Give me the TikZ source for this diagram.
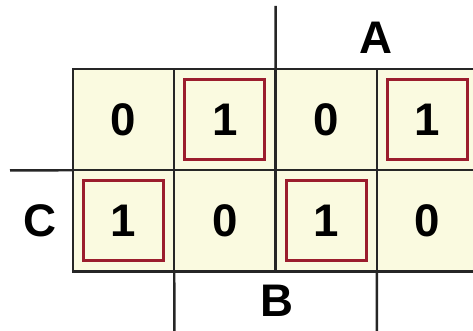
\documentclass[tikz,border=0pt]{standalone}
\usepackage{fontspec}
\setmainfont{Liberation Sans}
\definecolor{cellfill}{HTML}{FAFAE0}
\definecolor{grpred}{HTML}{9B1D2D}
\begin{document}
\begin{tikzpicture}[x=0.02cm, y=-0.02cm,
  cell/.style={draw=black!85, line width=1.4pt, fill=cellfill, minimum size=2.026cm,
    inner sep=0pt, outer sep=0pt, font=\fontsize{26}{26}\selectfont\bfseries},
  grp/.style={draw=grpred, line width=1.7pt, minimum size=1.6cm, inner sep=0pt},
  lbl/.style={font=\fontsize{26}{26}\selectfont\bfseries},
  mapline/.style={black!85, line width=1.4pt}]
  \useasboundingbox[fill=white] (0,0) rectangle (473,331);

  % cells of the map, row AB' / row C
  \node[cell] (c00) at (123.6,119.6) {0};
  \node[cell] (c01) at (224.9,119.6) {1};
  \node[cell] (c02) at (326.2,119.6) {0};
  \node[cell] (c03) at (427.5,119.6) {1};
  \node[cell] (c10) at (123.6,220.9) {1};
  \node[cell] (c11) at (224.9,220.9) {0};
  \node[cell] (c12) at (326.2,220.9) {1};
  \node[cell] (c13) at (427.5,220.9) {0};

  % groups (boxed 1s)
  \node[grp] (g01) at (c01) {};
  \node[grp] (g03) at (c03) {};
  \node[grp] (g10) at (c10) {};
  \node[grp] (g12) at (c12) {};

  % variable lines
  \coordinate (Aend) at (275.6,6);
  \coordinate (Cend) at (10,170.3);
  \coordinate (Bend1) at (174.3,331);
  \coordinate (Bend2) at (376.9,331);
  \draw[mapline] (Aend) -- (c02.north west);
  \draw[mapline] (Cend) -- (c10.north west);
  \draw[mapline] (Bend1) -- (c11.south west);
  \draw[mapline] (Bend2) -- (c13.south west);

  % variable names
  \node[lbl] (A) at (376,38) {A};
  \node[lbl] (C) at (40,221) {C};
  \node[lbl] (B) at (277,301) {B};
\end{tikzpicture}
\end{document}
